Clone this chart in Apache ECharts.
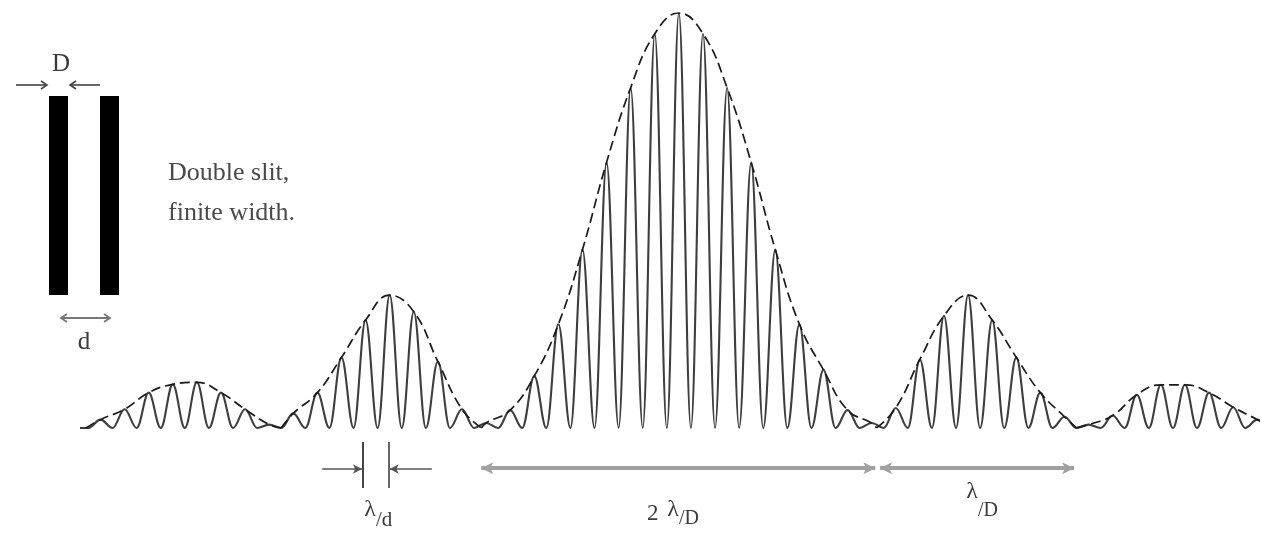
<!DOCTYPE html>
<html>
<head>
<meta charset="utf-8">
<script src="https://cdn.jsdelivr.net/npm/echarts@6/dist/echarts.min.js"></script>
<style>
html,body{margin:0;padding:0;background:#ffffff;}
#chart{width:1262px;height:535px;}
</style>
</head>
<body>
<div id="chart"></div>
<script>
// Fringe order (position in units of lambda/d) of every interference maximum
const fringeOrders = [-24,-23,-22,-21,-20,-19,-18,-17,-16,-15,-14,-13,-12,-11,-10,-9,-8,-7,-6,-5,-4,-3,-2,-1,0,
                      1,2,3,4,5,6,7,8,9,10,11,12,13,14,15,16,17,18,19,20,21,22,23,24];
// Relative intensity of each maximum (central maximum = 1)
const peakIntensity = [0.02,0.045,0.085,0.105,0.11,0.085,0.045,0.008,0.035,0.085,0.17,0.26,0.32,0.28,0.16,0.045,0.012,0.043,0.125,0.25,0.43,0.64,0.82,0.95,1.0,
                       0.95,0.82,0.64,0.43,0.25,0.14,0.043,0.012,0.048,0.165,0.27,0.32,0.26,0.17,0.085,0.027,0.008,0.03,0.08,0.104,0.104,0.085,0.05,0.02];
// Minima between the single-slit envelope lobes (fringe units)
const envelopeZeros = [-24.6,-16.5,-8.2,8.2,16.5,24.6];
// Dimension markers (fringe units)
const centralLobeSpan = [-8.2, 8.15];   // 2 lambda / D
const sideLobeSpan = [8.35, 16.4];      // lambda / D
const fringeSpacingTicks = [-13.1, -12.05]; // lambda / d

// ---- build the intensity curve (maxima and dark fringes between them) ----
const curve = [[-24.85, 0]];
fringeOrders.forEach(function (n, i) {
  curve.push([n - 0.5, 0]);
  curve.push([n, peakIntensity[i]]);
});
curve.push([fringeOrders[fringeOrders.length - 1] + 0.5, 0]);

// ---- envelope lobes (dashed) ----
const envelopeSeries = [];
for (let k = 0; k < envelopeZeros.length - 1; k++) {
  const z0 = envelopeZeros[k], z1 = envelopeZeros[k + 1];
  const pts = [[z0, 0]];
  fringeOrders.forEach(function (n, i) { if (n > z0 && n < z1) pts.push([n, peakIntensity[i]]); });
  pts.push([z1, 0]);
  envelopeSeries.push({
    type: 'line', data: pts, smooth: 0.45, symbol: 'none', silent: true, z: 4,
    lineStyle: { color: '#1a1a1a', width: 1.7, type: [10, 5] }
  });
}

const ARROW_Y = -0.097;
const serif = '"Liberation Serif", "DejaVu Serif", serif';
const txtColor = '#3a3a3a';

const chart = echarts.init(document.getElementById('chart'), null, { renderer: 'canvas' });
chart.setOption({
  animation: false,
  backgroundColor: '#ffffff',
  grid: { left: 80, right: 4, top: 13, bottom: 0 },
  xAxis: { type: 'value', min: -24.85, max: 24.03, show: false },
  yAxis: { type: 'value', min: -0.258, max: 1, show: false },
  series: [
    {
      type: 'line', data: curve, smooth: 0.38, smoothMonotone: 'x', symbol: 'none', silent: true, z: 3,
      lineStyle: { color: '#3e3e3e', width: 2.1 },
      markLine: {
        silent: true, animation: false,
        label: { show: false },
        emphasis: { disabled: true },
        data: [
          [ { coord: [centralLobeSpan[0], ARROW_Y], symbol: 'arrow', symbolSize: [9, 12], lineStyle: { color: '#a0a0a0', width: 3.8, type: 'solid' } },
            { coord: [centralLobeSpan[1], ARROW_Y], symbol: 'arrow', symbolSize: [9, 12] } ],
          [ { coord: [sideLobeSpan[0], ARROW_Y], symbol: 'arrow', symbolSize: [9, 12], lineStyle: { color: '#a0a0a0', width: 3.8, type: 'solid' } },
            { coord: [sideLobeSpan[1], ARROW_Y], symbol: 'arrow', symbolSize: [9, 12] } ],
          [ { coord: [fringeSpacingTicks[0] - 1.7, -0.099], symbol: 'none', lineStyle: { color: '#555', width: 1.6, type: 'solid' } },
            { coord: [fringeSpacingTicks[0] - 0.05, -0.099], symbol: 'arrow', symbolSize: [7, 9] } ],
          [ { coord: [fringeSpacingTicks[1] + 1.8, -0.099], symbol: 'none', lineStyle: { color: '#555', width: 1.6, type: 'solid' } },
            { coord: [fringeSpacingTicks[1] + 0.05, -0.099], symbol: 'arrow', symbolSize: [7, 9] } ],
          [ { coord: [fringeSpacingTicks[0], -0.034], symbol: 'none', lineStyle: { color: '#444', width: 2, type: 'solid' } },
            { coord: [fringeSpacingTicks[0], -0.145], symbol: 'none' } ],
          [ { coord: [fringeSpacingTicks[1], -0.034], symbol: 'none', lineStyle: { color: '#666', width: 2, type: 'solid' } },
            { coord: [fringeSpacingTicks[1], -0.145], symbol: 'none' } ]
        ]
      }
    }
  ].concat(envelopeSeries),
  graphic: [
    // slits
    { type: 'rect', shape: { x: 49, y: 96, width: 19, height: 199 }, style: { fill: '#000' }, silent: true },
    { type: 'rect', shape: { x: 100, y: 96, width: 19, height: 199 }, style: { fill: '#000' }, silent: true },
    // D arrows
    { type: 'polyline', shape: { points: [[16, 85], [47, 85]] }, style: { stroke: '#444', lineWidth: 1.6, fill: null }, silent: true },
    { type: 'polyline', shape: { points: [[41, 81], [47, 85], [41, 89]] }, style: { stroke: '#444', lineWidth: 1.6, fill: null }, silent: true },
    { type: 'polyline', shape: { points: [[70, 85], [100, 85]] }, style: { stroke: '#444', lineWidth: 1.6, fill: null }, silent: true },
    { type: 'polyline', shape: { points: [[76, 81], [70, 85], [76, 89]] }, style: { stroke: '#444', lineWidth: 1.6, fill: null }, silent: true },
    // d arrow
    { type: 'polyline', shape: { points: [[61, 318], [110, 318]] }, style: { stroke: '#777', lineWidth: 1.8, fill: null }, silent: true },
    { type: 'polyline', shape: { points: [[67, 314], [61, 318], [67, 322]] }, style: { stroke: '#777', lineWidth: 1.8, fill: null }, silent: true },
    { type: 'polyline', shape: { points: [[104, 314], [110, 318], [104, 322]] }, style: { stroke: '#777', lineWidth: 1.8, fill: null }, silent: true },
    // labels
    { type: 'text', x: 61, y: 64, silent: true, style: { text: 'D', font: '25px ' + serif, fill: txtColor, align: 'center', verticalAlign: 'middle' } },
    { type: 'text', x: 84, y: 342, silent: true, style: { text: 'd', font: '25px ' + serif, fill: txtColor, align: 'center', verticalAlign: 'middle' } },
    { type: 'text', x: 168, y: 173, silent: true, style: { text: 'Double slit,', font: '26px ' + serif, fill: '#4a4a4a', align: 'left', verticalAlign: 'middle' } },
    { type: 'text', x: 168, y: 213, silent: true, style: { text: 'finite width.', font: '26px ' + serif, fill: '#4a4a4a', align: 'left', verticalAlign: 'middle' } },
    // lambda/d
    { type: 'text', x: 370, y: 510, silent: true, style: { text: 'λ', font: '24px ' + serif, fill: txtColor, align: 'center', verticalAlign: 'middle' } },
    { type: 'text', x: 376, y: 520, silent: true, style: { text: '/d', font: '21px ' + serif, fill: txtColor, align: 'left', verticalAlign: 'middle' } },
    // 2 lambda/D
    { type: 'text', x: 647, y: 514, silent: true, style: { text: '2', font: '23px ' + serif, fill: txtColor, align: 'left', verticalAlign: 'middle' } },
    { type: 'text', x: 673, y: 510, silent: true, style: { text: 'λ', font: '24px ' + serif, fill: txtColor, align: 'center', verticalAlign: 'middle' } },
    { type: 'text', x: 679, y: 519, silent: true, style: { text: '/D', font: '20px ' + serif, fill: txtColor, align: 'left', verticalAlign: 'middle' } },
    // lambda/D
    { type: 'text', x: 972, y: 492, silent: true, style: { text: 'λ', font: '24px ' + serif, fill: txtColor, align: 'center', verticalAlign: 'middle' } },
    { type: 'text', x: 978, y: 511, silent: true, style: { text: '/D', font: '20px ' + serif, fill: txtColor, align: 'left', verticalAlign: 'middle' } }
  ]
});
</script>
</body>
</html>
